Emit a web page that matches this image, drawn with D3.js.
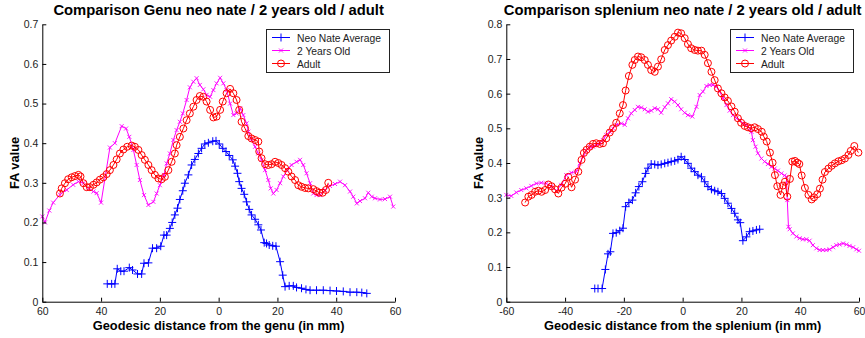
<!DOCTYPE html>
<html><head><meta charset="utf-8">
<script src="https://cdn.jsdelivr.net/npm/d3@7"></script>
<style>
html,body{margin:0;padding:0;background:#fff;}
svg{display:block;font-family:"Liberation Sans",Arial,Helvetica,sans-serif;}
</style></head>
<body><svg id="c" width="865" height="338"></svg>
<script>
// ---------- DATA ----------
const legendLabels = ["Neo Nate Average", "2 Years Old", "Adult"];
const xTicks = [-60, -40, -20, 0, 20, 40, 60];
const leftYTicks = [0, 0.1, 0.2, 0.3, 0.4, 0.5, 0.6, 0.7];
const rightYTicks = [0, 0.1, 0.2, 0.3, 0.4, 0.5, 0.6, 0.7, 0.8];
const leftTitle = "Comparison Genu neo nate / 2 years old / adult";
const rightTitle = "Comparison splenium neo nate / 2 years old / adult";
const leftXLabel = "Geodesic distance from the genu (in mm)";
const rightXLabel = "Geodesic distance from the splenium (in mm)";
const yLabel = "FA value";

// Left (genu) – neo nate average
const leftNeoX = [-37.9,-36.4,-35.3,-34.5,-33.3,-32.2,-30.4,-29.3,-27.6,-26.2,-25.4,-23.9,-22.5,-21.1,-19.7,-18.6,-17.7,-16.6,-15.8,-14.9,-14.0,-13.2,-12.2,-11.5,-10.3,-9.2,-8.1,-6.9,-5.8,-4.7,-3.5,-2.0,-0.9,0.2,1.4,2.5,3.6,4.8,5.6,6.4,7.0,7.8,8.7,9.5,10.4,11.2,12.4,13.5,14.4,15.5,16.3,17.2,18.4,19.5,20.9,21.8,22.6,24.0,25.4,26.5,28.2,29.7,31.1,33.3,35.6,37.9,40.1,42.4,44.7,47.0,48.7,50.4];
const leftNeoY = [0.045,0.045,0.045,0.083,0.077,0.077,0.086,0.080,0.070,0.070,0.097,0.098,0.135,0.135,0.140,0.168,0.168,0.185,0.200,0.219,0.236,0.258,0.280,0.299,0.320,0.345,0.359,0.374,0.387,0.398,0.401,0.405,0.406,0.398,0.387,0.379,0.369,0.358,0.342,0.324,0.303,0.286,0.271,0.252,0.233,0.219,0.208,0.194,0.181,0.149,0.147,0.143,0.141,0.140,0.101,0.067,0.038,0.040,0.040,0.036,0.034,0.031,0.029,0.029,0.029,0.028,0.027,0.026,0.024,0.024,0.023,0.021];

// Left (genu) – 2 years old
const left2yX = [-60.0,-59.1,-57.6,-56.3,-54.0,-51.7,-49.5,-47.7,-46.0,-44.3,-42.6,-41.5,-40.0,-37.0,-35.3,-33.0,-31.5,-30.4,-29.0,-27.9,-26.8,-25.4,-23.9,-22.2,-21.1,-20.0,-18.6,-17.7,-16.6,-15.4,-14.3,-13.2,-12.2,-10.9,-9.8,-8.6,-7.5,-6.4,-5.2,-4.1,-2.9,-1.8,-0.7,0.5,1.6,2.7,3.9,5.0,6.1,7.3,8.4,9.5,10.1,11.2,12.4,13.5,14.6,15.8,16.9,17.7,18.6,19.7,20.9,22.0,23.4,24.8,26.5,27.7,28.8,29.9,31.1,32.2,33.3,34.5,36.2,37.9,39.6,41.3,43.0,44.7,45.8,47.0,48.1,49.8,50.9,52.1,53.2,54.9,56.6,58.3,59.4];
const left2yY = [0.215,0.200,0.230,0.250,0.270,0.282,0.295,0.303,0.299,0.286,0.278,0.274,0.250,0.389,0.400,0.443,0.437,0.416,0.383,0.345,0.307,0.269,0.244,0.252,0.273,0.294,0.320,0.349,0.374,0.408,0.433,0.454,0.475,0.509,0.541,0.555,0.564,0.547,0.536,0.522,0.517,0.534,0.551,0.565,0.551,0.534,0.500,0.471,0.475,0.488,0.471,0.450,0.429,0.408,0.391,0.374,0.358,0.332,0.307,0.286,0.273,0.282,0.299,0.316,0.332,0.345,0.353,0.358,0.345,0.324,0.299,0.273,0.269,0.269,0.282,0.292,0.297,0.303,0.294,0.278,0.265,0.248,0.254,0.261,0.275,0.265,0.261,0.258,0.259,0.265,0.240];

// Left (genu) – adult
const leftAdultX = [-54.0,-53.4,-52.3,-51.2,-50.0,-48.9,-47.7,-47.0,-46.0,-44.9,-43.8,-42.6,-41.5,-40.4,-39.2,-38.1,-37.0,-35.8,-34.7,-33.6,-32.4,-31.1,-29.6,-28.5,-27.3,-26.2,-25.1,-23.9,-22.8,-21.7,-20.5,-19.4,-18.3,-17.1,-16.0,-14.9,-14.3,-13.2,-12.0,-10.9,-9.8,-8.6,-7.5,-6.4,-5.2,-4.1,-2.9,-1.8,-0.7,0.5,1.4,2.7,3.9,5.0,6.1,7.0,7.8,9.0,10.1,11.2,12.4,13.5,13.8,14.6,15.8,16.9,18.0,19.2,20.3,21.4,22.6,23.7,24.8,26.0,27.1,28.2,29.4,30.5,32.2,33.3,34.3,35.4,36.5,37.3];
const leftAdultY = [0.273,0.286,0.299,0.309,0.314,0.317,0.320,0.316,0.299,0.289,0.289,0.295,0.301,0.308,0.314,0.322,0.332,0.345,0.359,0.374,0.384,0.391,0.394,0.391,0.383,0.370,0.358,0.345,0.332,0.320,0.311,0.309,0.315,0.332,0.353,0.374,0.395,0.416,0.437,0.458,0.475,0.492,0.509,0.519,0.517,0.505,0.484,0.465,0.467,0.484,0.505,0.526,0.537,0.526,0.509,0.484,0.454,0.437,0.418,0.412,0.408,0.404,0.379,0.362,0.347,0.345,0.347,0.353,0.350,0.345,0.337,0.328,0.316,0.307,0.294,0.290,0.287,0.286,0.284,0.279,0.275,0.275,0.282,0.300];

// Right (splenium) – neo nate average
const rightNeoX = [-29.9,-28.8,-27.4,-26.3,-25.4,-24.6,-23.7,-22.6,-21.4,-20.3,-19.4,-18.3,-17.1,-16.0,-14.9,-13.7,-12.6,-11.8,-10.7,-9.5,-8.4,-7.3,-6.1,-5.0,-3.9,-2.7,-1.6,-0.5,0.7,1.8,2.9,4.1,5.2,6.4,7.5,8.6,9.8,10.9,12.0,13.2,14.3,15.4,16.6,17.7,18.8,19.6,20.5,21.7,22.8,23.9,25.1,26.2];
const rightNeoY = [0.038,0.038,0.038,0.093,0.138,0.144,0.197,0.199,0.205,0.212,0.274,0.286,0.293,0.314,0.332,0.346,0.370,0.385,0.397,0.396,0.394,0.396,0.399,0.401,0.404,0.406,0.410,0.418,0.410,0.399,0.385,0.375,0.365,0.360,0.346,0.332,0.324,0.320,0.317,0.312,0.298,0.284,0.269,0.255,0.236,0.228,0.176,0.187,0.202,0.204,0.207,0.209];

// Right (splenium) – 2 years old
const right2yX = [-60.0,-58.3,-56.6,-54.9,-53.2,-51.5,-49.8,-48.1,-46.4,-44.7,-43.0,-41.3,-39.6,-37.9,-36.2,-35.0,-33.9,-32.8,-31.6,-30.5,-29.4,-28.2,-27.1,-26.0,-24.8,-23.7,-22.6,-20.9,-19.7,-18.6,-17.5,-16.3,-15.2,-14.1,-12.9,-11.8,-10.7,-9.5,-8.4,-7.3,-6.1,-5.0,-3.9,-2.7,-1.6,-0.5,0.7,1.8,3.3,4.7,5.8,6.9,8.1,9.2,10.3,11.5,12.6,13.7,14.9,16.0,17.1,18.3,19.4,20.5,21.7,22.8,23.4,23.9,24.8,25.6,26.8,27.9,29.0,30.2,31.3,32.4,33.6,34.7,35.3,35.6,36.0,36.4,37.5,38.7,39.8,40.9,42.1,43.2,44.3,45.5,46.6,47.7,48.9,50.0,51.2,52.3,53.4,54.6,55.7,56.8,58.0,59.1,60.0];
const right2yY = [0.308,0.305,0.315,0.322,0.327,0.334,0.341,0.343,0.341,0.332,0.320,0.337,0.365,0.372,0.375,0.399,0.418,0.436,0.447,0.447,0.452,0.457,0.466,0.481,0.490,0.500,0.510,0.514,0.510,0.529,0.543,0.553,0.562,0.560,0.555,0.548,0.551,0.558,0.555,0.545,0.561,0.572,0.584,0.577,0.567,0.555,0.545,0.538,0.534,0.562,0.596,0.606,0.622,0.625,0.625,0.620,0.606,0.587,0.567,0.551,0.538,0.529,0.524,0.514,0.510,0.500,0.490,0.466,0.447,0.428,0.413,0.404,0.397,0.389,0.384,0.378,0.370,0.364,0.360,0.293,0.216,0.209,0.197,0.188,0.183,0.180,0.180,0.176,0.163,0.154,0.149,0.149,0.149,0.151,0.157,0.163,0.165,0.168,0.165,0.161,0.157,0.151,0.147];

// Right (splenium) – adult
const rightAdultX = [-53.6,-52.5,-51.4,-50.2,-49.1,-48.0,-46.8,-45.7,-44.6,-43.4,-42.3,-41.2,-40.0,-38.9,-37.8,-36.6,-35.5,-34.4,-33.6,-32.7,-31.6,-30.5,-29.4,-28.2,-27.1,-26.0,-24.8,-23.7,-22.6,-21.4,-20.3,-19.4,-18.3,-17.1,-16.3,-15.2,-14.1,-12.9,-11.8,-10.7,-9.5,-8.4,-7.3,-6.1,-5.0,-3.9,-2.7,-1.6,-0.5,0.7,1.8,2.9,4.1,5.2,6.4,7.5,8.6,9.8,10.9,12.0,13.2,14.3,15.4,16.6,17.7,18.8,19.9,21.1,22.2,23.3,24.5,25.6,26.9,27.6,28.6,29.7,30.6,31.4,32.2,33.3,34.1,34.8,35.6,36.5,37.3,38.2,39.0,39.7,40.5,41.6,42.8,43.9,44.7,45.8,46.7,47.6,48.4,49.6,50.7,51.8,53.0,54.1,55.2,56.4,57.2,58.4,59.8];
const rightAdultY = [0.286,0.303,0.308,0.317,0.320,0.317,0.322,0.338,0.333,0.324,0.312,0.329,0.340,0.360,0.330,0.352,0.375,0.409,0.429,0.438,0.447,0.455,0.457,0.455,0.457,0.471,0.488,0.500,0.516,0.543,0.567,0.609,0.651,0.683,0.697,0.707,0.705,0.697,0.683,0.668,0.663,0.678,0.699,0.726,0.740,0.753,0.764,0.776,0.774,0.760,0.743,0.731,0.726,0.724,0.724,0.712,0.688,0.663,0.639,0.615,0.601,0.589,0.579,0.563,0.548,0.529,0.516,0.507,0.503,0.500,0.503,0.498,0.490,0.476,0.462,0.430,0.401,0.365,0.333,0.308,0.335,0.346,0.303,0.354,0.404,0.406,0.401,0.397,0.364,0.328,0.308,0.295,0.301,0.310,0.326,0.352,0.374,0.384,0.392,0.399,0.405,0.408,0.413,0.423,0.435,0.449,0.430];

// ---------- DRAW ----------
const svg = d3.select("#c");
const colors = ["#0000ff", "#ff00ff", "#ff0000"];
const markers = ["plus", "cross", "circle"];

function drawMarker(g, type, color, cx, cy) {
  if (type === "plus") {
    g.append("path").attr("d", `M${cx-4},${cy}H${cx+4}M${cx},${cy-4}V${cy+4}`)
      .attr("stroke", color).attr("stroke-width", 1).attr("fill", "none");
  } else if (type === "cross") {
    g.append("path").attr("d", `M${cx-2},${cy-2}L${cx+2},${cy+2}M${cx-2},${cy+2}L${cx+2},${cy-2}`)
      .attr("stroke", color).attr("stroke-width", 0.9).attr("fill", "none");
  } else {
    g.append("circle").attr("cx", cx).attr("cy", cy).attr("r", 3.5)
      .attr("stroke", color).attr("stroke-width", 1).attr("fill", "none");
  }
}

function drawChart(cfg) {
  const g = svg.append("g");
  const x = d3.scaleLinear().domain([-60, 60]).range([cfg.x0, cfg.x1]);
  const y = d3.scaleLinear().domain([0, cfg.ymax]).range([301.7, 24.3]);

  // series
  cfg.series.forEach((s, i) => {
    const pts = s.x.map((v, k) => [v, s.y[k]]);
    g.append("path").datum(pts)
      .attr("d", d3.line().x(d => x(d[0])).y(d => y(d[1])))
      .attr("fill", "none").attr("stroke", colors[i]).attr("stroke-width", 1);
    const mg = g.append("g");
    pts.forEach(p => drawMarker(mg, markers[i], colors[i], x(p[0]), y(p[1])));
  });

  // axes
  const xa = g.append("g").attr("transform", `translate(0,${y(0)})`)
    .call(d3.axisBottom(x).tickValues(xTicks).tickSizeInner(-4).tickSizeOuter(0).tickPadding(5.5)
      .tickFormat(cfg.xfmt));
  const ya = g.append("g").attr("transform", `translate(${x(-60)},0)`)
    .call(d3.axisLeft(y).tickValues(cfg.yticks).tickSizeInner(-4).tickSizeOuter(0).tickPadding(4)
      .tickFormat(d => d === 0 ? "0" : d3.format(".1f")(d)));
  [xa, ya].forEach(a => {
    a.selectAll("path,line").attr("stroke", "#000").attr("stroke-width", 1);
    a.selectAll("text").attr("fill", "#222").style("font-size", "10.5px")
      .style("font-family", "'Liberation Sans',Arial,sans-serif");
  });

  // titles
  const cx = (cfg.x0 + cfg.x1) / 2;
  g.append("text").attr("x", cx).attr("y", 15).attr("text-anchor", "middle")
    .style("font-size", "14.8px").style("font-weight", "bold").text(cfg.title);
  g.append("text").attr("x", cx).attr("y", 330).attr("text-anchor", "middle")
    .style("font-size", "12.8px").style("font-weight", "bold").text(cfg.xlabel);
  g.append("text").attr("transform", `translate(${cfg.x0 - 23},163) rotate(-90)`)
    .attr("text-anchor", "middle").style("font-size", "12.8px").style("font-weight", "bold").text(yLabel);

  // legend
  const lg = g.append("g").attr("transform", `translate(${cfg.lx},29)`);
  lg.append("rect").attr("x", 0.5).attr("y", 0.5).attr("width", 123).attr("height", 43)
    .attr("fill", "#fff").attr("stroke", "#222").attr("stroke-width", 1);
  legendLabels.forEach((lab, i) => {
    const ly = 8.5 + i * 13;
    lg.append("line").attr("x1", 6).attr("x2", 24).attr("y1", ly).attr("y2", ly)
      .attr("stroke", colors[i]).attr("stroke-width", 1);
    drawMarker(lg, markers[i], colors[i], 15, ly);
    lg.append("text").attr("x", 31).attr("y", ly + 4).style("font-size", "10.3px")
      .attr("fill", "#222").text(lab);
  });
}

drawChart({
  x0: 42.3, x1: 395, ymax: 0.7, yticks: leftYTicks, title: leftTitle, xlabel: leftXLabel,
  xfmt: d => String(Math.abs(d)), lx: 266,
  series: [{x: leftNeoX, y: leftNeoY}, {x: left2yX, y: left2yY}, {x: leftAdultX, y: leftAdultY}]
});
drawChart({
  x0: 506.3, x1: 859, ymax: 0.8, yticks: rightYTicks, title: rightTitle, xlabel: rightXLabel,
  xfmt: d => String(d), lx: 730,
  series: [{x: rightNeoX, y: rightNeoY}, {x: right2yX, y: right2yY}, {x: rightAdultX, y: rightAdultY}]
});
</script></body></html>
